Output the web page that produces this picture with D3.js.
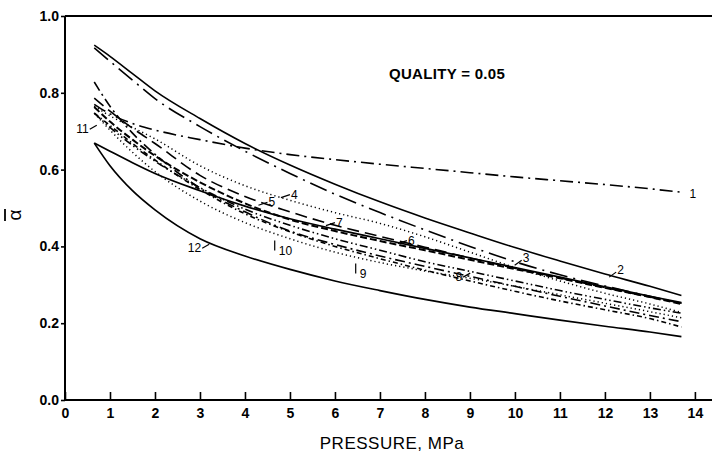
<!DOCTYPE html>
<html>
<head>
<meta charset="utf-8">
<script src="https://cdn.jsdelivr.net/npm/d3@7"></script>
<style>
  body { margin: 0; background: #fff; }
  svg { display: block; }
  text { font-family: "Liberation Sans", Arial, sans-serif; fill: #000; }
</style>
</head>
<body>
<svg id="chart" width="712" height="453"></svg>
<script>
// Pressure grid (MPa) shared by all curves
var pressure = [0.65, 1, 1.5, 2, 3, 4, 5, 6, 7, 8, 9, 10, 11, 12, 13, 13.7];

// Void fraction, one array per correlation
var curve1  = [0.770, 0.745, 0.720, 0.703, 0.678, 0.656, 0.639, 0.626, 0.614, 0.603, 0.592, 0.581, 0.571, 0.561, 0.550, 0.541];
var curve2  = [0.924, 0.895, 0.850, 0.805, 0.733, 0.668, 0.612, 0.562, 0.516, 0.474, 0.435, 0.397, 0.362, 0.328, 0.296, 0.272];
var curve3  = [0.917, 0.882, 0.833, 0.785, 0.712, 0.648, 0.590, 0.536, 0.488, 0.443, 0.400, 0.360, 0.326, 0.297, 0.270, 0.252];
var curve4  = [0.765, 0.740, 0.710, 0.680, 0.610, 0.558, 0.520, 0.488, 0.460, 0.425, 0.385, 0.345, 0.310, 0.278, 0.250, 0.228];
var curve5  = [0.786, 0.752, 0.708, 0.668, 0.585, 0.530, 0.490, 0.455, 0.426, 0.398, 0.370, 0.343, 0.318, 0.293, 0.268, 0.252];
var curve6  = [0.669, 0.648, 0.618, 0.590, 0.545, 0.505, 0.472, 0.445, 0.420, 0.395, 0.370, 0.345, 0.320, 0.295, 0.270, 0.254];
var curve7  = [0.763, 0.725, 0.678, 0.636, 0.567, 0.512, 0.470, 0.440, 0.414, 0.390, 0.365, 0.341, 0.317, 0.292, 0.268, 0.250];
var curve8  = [0.747, 0.710, 0.663, 0.622, 0.553, 0.497, 0.455, 0.420, 0.390, 0.360, 0.335, 0.310, 0.285, 0.262, 0.240, 0.226];
var curve9  = [0.747, 0.703, 0.645, 0.595, 0.518, 0.462, 0.420, 0.385, 0.358, 0.336, 0.317, 0.296, 0.274, 0.252, 0.230, 0.214];
var curve10 = [0.828, 0.765, 0.695, 0.640, 0.552, 0.490, 0.440, 0.405, 0.375, 0.348, 0.322, 0.296, 0.270, 0.245, 0.220, 0.204];
var curve11 = [0.747, 0.715, 0.668, 0.625, 0.548, 0.485, 0.438, 0.400, 0.368, 0.338, 0.310, 0.283, 0.258, 0.235, 0.212, 0.190];
var curve12 = [0.669, 0.610, 0.545, 0.495, 0.420, 0.375, 0.340, 0.310, 0.285, 0.262, 0.242, 0.225, 0.208, 0.192, 0.177, 0.165];

var curveNames = ["1", "2", "3", "4", "5", "6", "7", "8", "9", "10", "11", "12"];

// Curve label anchors (pressure, alpha) and arrow direction
var labelP = [13.88, 12.25, 10.15, 5.0, 4.5, 7.6, 6.0, 8.85, 6.55, 4.75, 0.55, 3.05];
var labelA = [0.538, 0.333, 0.364, 0.535, 0.515, 0.415, 0.462, 0.320, 0.340, 0.400, 0.705, 0.395];
var arrowDir = ["none", "sw", "sw", "w", "w", "w", "w", "ne", "up", "up", "ne", "ne"];

var xTicks = [0, 1, 2, 3, 4, 5, 6, 7, 8, 9, 10, 11, 12, 13, 14];
var yTicks = [0, 0.2, 0.4, 0.6, 0.8, 1.0];

var svg = d3.select("#chart"),
    width = +svg.attr("width"),
    height = +svg.attr("height");

var x = d3.scaleLinear().domain([0, 14.38]).range([65, 712]);
var y = d3.scaleLinear().domain([0, 1]).range([400, 16]);

var series = [curve1, curve2, curve3, curve4, curve5, curve6, curve7, curve8, curve9, curve10, curve11, curve12];
var dashes = ["13,5,2,5", null, "18,6,2,6", "1.2,3", "12,6", null, "7,3", "8,3,1.5,3,1.5,3", "1.2,3", "10,4,2,4", "5,3,1.5,3", null];
var widths = [1.6, 1.6, 1.6, 1.5, 1.6, 1.7, 2.0, 1.6, 1.5, 1.6, 1.6, 1.7];

var line = d3.line()
    .x(function (d, i) { return x(pressure[i]); })
    .y(function (d) { return y(d); })
    .curve(d3.curveMonotoneX);

// curves
svg.append("g")
    .selectAll("path")
    .data(series)
    .enter()
    .append("path")
    .attr("d", line)
    .attr("fill", "none")
    .attr("stroke", "#000")
    .attr("stroke-width", function (d, i) { return widths[i]; })
    .attr("stroke-dasharray", function (d, i) { return dashes[i]; });

// axes
var xAxis = d3.axisBottom(x).tickValues(xTicks).tickSize(-8).tickPadding(8).tickFormat(d3.format("d"));
var yAxis = d3.axisLeft(y).tickValues(yTicks).tickSize(4).tickPadding(2).tickFormat(d3.format(".1f"));

var gx = svg.append("g").attr("transform", "translate(0,400)").call(xAxis);
var gy = svg.append("g").attr("transform", "translate(65,0)").call(yAxis);

[gx, gy].forEach(function (g) {
    g.select(".domain").attr("stroke", "#000").attr("stroke-width", 2);
    g.selectAll(".tick line").attr("stroke", "#000").attr("stroke-width", 1.6);
    g.selectAll(".tick text")
        .style("font-family", "'Liberation Sans', Arial, sans-serif")
        .style("font-size", "14px")
        .style("font-weight", "bold");
});
gx.select(".domain").attr("d", "M65,0H712");
gy.select(".domain").attr("d", "M0,16V400");

// top frame
svg.append("line")
    .attr("x1", x(0)).attr("x2", width)
    .attr("y1", y(1)).attr("y2", y(1))
    .attr("stroke", "#000").attr("stroke-width", 2);

// axis titles
svg.append("text")
    .attr("x", 392).attr("y", 449)
    .attr("text-anchor", "middle")
    .style("font-size", "17px")
    .style("letter-spacing", "0.5px")
    .text("PRESSURE, MPa");

var yt = svg.append("g").attr("transform", "translate(21,215) rotate(-90)");
yt.append("text")
    .attr("text-anchor", "middle")
    .style("font-size", "19px")
    .text("α");
yt.append("line")
    .attr("x1", -6).attr("x2", 6)
    .attr("y1", -16).attr("y2", -16)
    .attr("stroke", "#000").attr("stroke-width", 1.8);

svg.append("text")
    .attr("x", 389).attr("y", 79)
    .style("font-size", "15px")
    .style("font-weight", "bold")
    .style("letter-spacing", "0.3px")
    .text("QUALITY = 0.05");

// curve labels with little arrows
var labels = svg.append("g");
curveNames.forEach(function (name, i) {
    var px = x(labelP[i]), py = y(labelA[i]);
    var dir = arrowDir[i];
    var tx = px, ty = py, ax1, ay1, ax2, ay2;
    if (dir === "w") { ax1 = px; ay1 = py; ax2 = px - 9; ay2 = py + 3; tx = px + 1; ty = py + 4; }
    if (dir === "sw") { ax1 = px; ay1 = py; ax2 = px - 7; ay2 = py + 5; tx = px + 1; ty = py + 2; }
    if (dir === "ne") { ax1 = px; ay1 = py; ax2 = px + 7; ay2 = py - 4; tx = px - 1; ty = py + 4; }
    if (dir === "up") { ax1 = px - 4; ay1 = py + 4; ax2 = px - 4; ay2 = py - 6; tx = px; ty = py + 9; }
    var anchor = (dir === "ne") ? "end" : "start";
    if (dir === "none") { anchor = "start"; ty = py + 5; }
    labels.append("text")
        .attr("x", tx).attr("y", ty)
        .attr("text-anchor", anchor)
        .style("font-size", "12px")
        .text(name);
    if (dir !== "none") {
        labels.append("line")
            .attr("x1", ax1).attr("y1", ay1)
            .attr("x2", ax2).attr("y2", ay2)
            .attr("stroke", "#000").attr("stroke-width", 1.2);
    }
});
</script>
</body>
</html>
